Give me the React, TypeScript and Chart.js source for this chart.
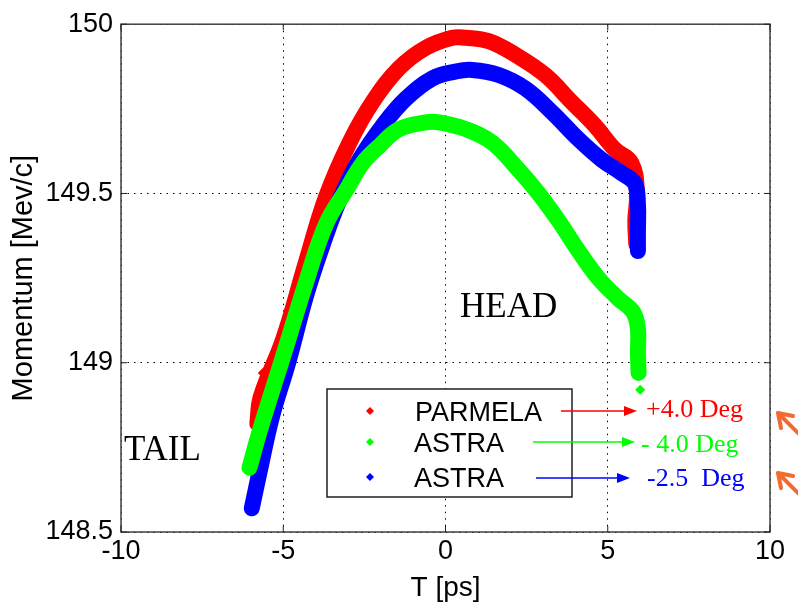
import React, { useEffect, useRef } from "react";
import { Chart, registerables } from "chart.js";

Chart.register(...registerables);

// ---- Data ----
const xTickValues = [-10, -5, 0, 5, 10];
const yTickValues = [148.5, 149, 149.5, 150];

// PARMELA (+4.0 Deg) – centre line of the red band
const parmelaT = [-5.8, -5.69, -5.0, -4.29, -3.68, -2.96, -2.25, -1.43, -0.61, 0.21, 0.62, 1.33, 2.15, 3.07, 3.89, 4.61, 5.22, 5.73, 5.9, 5.85, 5.88];
const parmelaP = [148.82, 148.9, 149.07, 149.3, 149.49, 149.65, 149.77, 149.87, 149.93, 149.96, 149.96, 149.95, 149.91, 149.85, 149.77, 149.7, 149.63, 149.59, 149.5, 149.42, 149.35];

// ASTRA (-4.0 Deg) – green band
const astraM4T = [-6.04, -5.72, -5.0, -4.29, -3.68, -3.06, -2.55, -2.04, -1.43, -0.61, -0.2, 0.62, 1.44, 2.25, 2.87, 3.48, 4.1, 4.71, 5.32, 5.78, 5.93, 5.93, 5.95];
const astraM4P = [148.69, 148.8, 149.02, 149.24, 149.41, 149.51, 149.59, 149.64, 149.69, 149.71, 149.71, 149.69, 149.65, 149.57, 149.5, 149.42, 149.33, 149.25, 149.19, 149.15, 149.1, 149.03, 148.97];

// ASTRA (-2.5 Deg) – blue band
const astraM25T = [-5.97, -5.68, -5.35, -4.85, -4.29, -3.78, -3.27, -2.65, -1.94, -1.22, -0.4, 0.3, 0.82, 1.64, 2.46, 3.28, 4.1, 4.81, 5.43, 5.83, 5.93, 5.93, 5.93];
const astraM25P = [148.57, 148.7, 148.84, 149.0, 149.2, 149.35, 149.48, 149.6, 149.7, 149.78, 149.84, 149.86, 149.865, 149.85, 149.81, 149.74, 149.66, 149.6, 149.56, 149.53, 149.47, 149.39, 149.33];

// isolated stray particles
const redStrayT = [-5.63];
const redStrayP = [148.97];
const greenStrayT = [6.0];
const greenStrayP = [148.92];

const legendLabels = ["PARMELA", "ASTRA", "ASTRA"];
const phaseLabels = ["+4.0 Deg", "- 4.0 Deg", "-2.5  Deg"];
const seriesColors = ["#ff0000", "#00ff00", "#0000ff"];

const toPts = (xs: number[], ys: number[]) => xs.map((x, i) => ({ x, y: ys[i] }));

const SANS = '"Liberation Sans", Arial, Helvetica, sans-serif';
const SERIF = '"Liberation Serif", "Times New Roman", serif';

function drawArrow(ctx: CanvasRenderingContext2D, x1: number, x2: number, y: number, color: string) {
  ctx.save();
  ctx.strokeStyle = color;
  ctx.fillStyle = color;
  ctx.lineWidth = 1.5;
  ctx.beginPath();
  ctx.moveTo(x1, y);
  ctx.lineTo(x2 - 10, y);
  ctx.stroke();
  ctx.beginPath();
  ctx.moveTo(x2, y);
  ctx.lineTo(x2 - 13, y - 5);
  ctx.lineTo(x2 - 13, y + 5);
  ctx.closePath();
  ctx.fill();
  ctx.restore();
}

function drawDiamond(ctx: CanvasRenderingContext2D, x: number, y: number, r: number, color: string) {
  ctx.save();
  ctx.fillStyle = color;
  ctx.beginPath();
  ctx.moveTo(x, y - r);
  ctx.lineTo(x + r, y);
  ctx.lineTo(x, y + r);
  ctx.lineTo(x - r, y);
  ctx.closePath();
  ctx.fill();
  ctx.restore();
}

function drawOrangeArrow(ctx: CanvasRenderingContext2D, tx: number, ty: number) {
  ctx.save();
  ctx.strokeStyle = "#f26b2f";
  ctx.lineWidth = 4;
  ctx.lineCap = "round";
  ctx.beginPath();
  ctx.moveTo(tx, ty);
  ctx.lineTo(tx + 26, ty + 26);
  ctx.moveTo(tx, ty);
  ctx.lineTo(tx + 15, ty + 3);
  ctx.moveTo(tx, ty);
  ctx.lineTo(tx + 3, ty + 15);
  ctx.stroke();
  ctx.restore();
}

const annotationPlugin = {
  id: "annotations",
  afterDraw(chart: any) {
    const { ctx, chartArea, scales } = chart;
    const { left, right, top, bottom } = chartArea;
    ctx.save();
    // frame
    ctx.strokeStyle = "#404040";
    ctx.lineWidth = 1.5;
    ctx.strokeRect(left, top, right - left, bottom - top);
    // inward tick marks
    ctx.lineWidth = 1;
    ctx.strokeStyle = "#202020";
    xTickValues.forEach((v) => {
      const px = scales.x.getPixelForValue(v);
      ctx.beginPath();
      ctx.moveTo(px, bottom);
      ctx.lineTo(px, bottom - 6);
      ctx.moveTo(px, top);
      ctx.lineTo(px, top + 6);
      ctx.stroke();
    });
    yTickValues.forEach((v) => {
      const py = scales.y.getPixelForValue(v);
      ctx.beginPath();
      ctx.moveTo(left, py);
      ctx.lineTo(left + 6, py);
      ctx.moveTo(right, py);
      ctx.lineTo(right - 6, py);
      ctx.stroke();
    });

    // legend box
    ctx.fillStyle = "#ffffff";
    ctx.fillRect(327, 389, 245, 108);
    ctx.strokeStyle = "#202020";
    ctx.lineWidth = 1.5;
    ctx.strokeRect(327, 389, 245, 108);
    const rowY = [411, 442, 477];
    const textX = [415, 414, 414];
    ctx.font = `27px ${SANS}`;
    ctx.textBaseline = "alphabetic";
    ctx.textAlign = "left";
    legendLabels.forEach((lab, i) => {
      drawDiamond(ctx, 370, rowY[i], 4, seriesColors[i]);
      ctx.fillStyle = "#000000";
      ctx.fillText(lab, textX[i], rowY[i] + 10);
    });

    // arrows to phase labels
    drawArrow(ctx, 561, 637, 411, seriesColors[0]);
    drawArrow(ctx, 533, 635, 442, seriesColors[1]);
    drawArrow(ctx, 536, 630, 478, seriesColors[2]);
    ctx.font = `26px ${SERIF}`;
    const phaseX = [646, 641, 647];
    const phaseBase = [417, 452, 486];
    phaseLabels.forEach((lab, i) => {
      ctx.fillStyle = seriesColors[i];
      ctx.fillText(lab, phaseX[i], phaseBase[i]);
    });

    // HEAD / TAIL
    ctx.fillStyle = "#000000";
    ctx.font = `35px ${SERIF}`;
    ctx.fillText("HEAD", 460, 317);
    ctx.fillText("TAIL", 124, 460);

    // orange marker arrows at the right edge
    drawOrangeArrow(ctx, 778, 413);
    drawOrangeArrow(ctx, 778, 473);
    ctx.restore();
  },
};

export default function App() {
  const canvasRef = useRef<HTMLCanvasElement | null>(null);

  useEffect(() => {
    document.body.style.margin = "0";
    const canvas = canvasRef.current;
    if (!canvas) return;
    const band = 16;
    const lineDs = (label: string, xs: number[], ys: number[], color: string, order: number) => ({
      label,
      data: toPts(xs, ys),
      borderColor: color,
      backgroundColor: color,
      borderWidth: band,
      pointRadius: 0,
      tension: 0.4,
      borderCapStyle: "round",
      borderJoinStyle: "round",
      order,
    });
    const strayDs = (label: string, xs: number[], ys: number[], color: string) => ({
      label,
      data: toPts(xs, ys),
      showLine: false,
      pointStyle: "rectRot",
      pointRadius: 5,
      borderWidth: 0,
      backgroundColor: color,
      borderColor: color,
      order: 0,
    });
    const chart = new Chart(canvas, {
      type: "line",
      data: {
        datasets: [
          lineDs("ASTRA -4.0 Deg", astraM4T, astraM4P, seriesColors[1], 1),
          lineDs("ASTRA -2.5 Deg", astraM25T, astraM25P, seriesColors[2], 2),
          lineDs("PARMELA +4.0 Deg", parmelaT, parmelaP, seriesColors[0], 3),
          strayDs("red stray", redStrayT, redStrayP, seriesColors[0]),
          strayDs("green stray", greenStrayT, greenStrayP, seriesColors[1]),
        ],
      },
      options: {
        animation: false,
        responsive: false,
        devicePixelRatio: 1,
        layout: { padding: { left: 0, top: 19, right: 28, bottom: 0 } },
        plugins: { legend: { display: false }, tooltip: { enabled: false } },
        scales: {
          x: {
            type: "linear",
            min: -10,
            max: 10,
            afterBuildTicks: (s: any) => {
              s.ticks = xTickValues.map((v) => ({ value: v }));
            },
            afterFit: (s: any) => {
              s.height = 73;
            },
            ticks: {
              color: "#000",
              font: { family: SANS, size: 27 },
              padding: 3,
              maxRotation: 0,
              autoSkip: false,
            },
            grid: {
              color: "#000",
              lineWidth: 1,
              drawTicks: false,
            },
            border: { display: false, dash: [1.5, 5] },
            title: {
              display: true,
              text: "T [ps]",
              color: "#000",
              font: { family: SANS, size: 28 },
              padding: { top: 0, bottom: 0 },
            },
          },
          y: {
            type: "linear",
            min: 148.5,
            max: 150,
            afterBuildTicks: (s: any) => {
              s.ticks = yTickValues.map((v) => ({ value: v }));
            },
            afterFit: (s: any) => {
              s.width = 121;
            },
            ticks: {
              color: "#000",
              font: { family: SANS, size: 27 },
              padding: 8,
              autoSkip: false,
              callback: (v: any) => String(v),
            },
            grid: {
              color: "#000",
              lineWidth: 1,
              drawTicks: false,
            },
            border: { display: false, dash: [1.5, 5] },
            title: {
              display: true,
              text: "Momentum [Mev/c]",
              color: "#000",
              font: { family: SANS, size: 29 },
              padding: { top: 7, bottom: 0 },
            },
          },
        },
      },
      plugins: [annotationPlugin],
    } as any);
    return () => chart.destroy();
  }, []);

  return (
    <div style={{ position: "fixed", left: 0, top: 0, width: 798, height: 605, background: "#fff" }}>
      <canvas ref={canvasRef} width={798} height={605} style={{ display: "block" }} />
    </div>
  );
}
